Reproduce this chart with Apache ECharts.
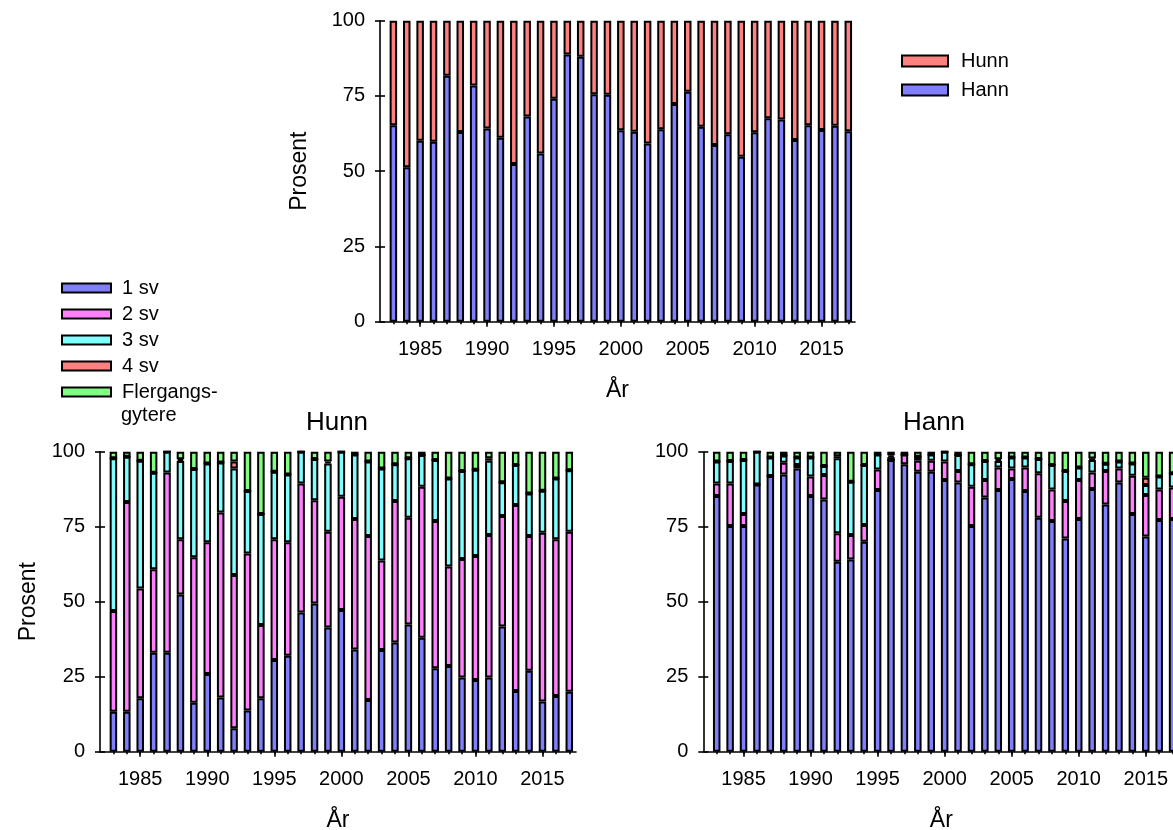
<!DOCTYPE html>
<html>
<head>
<meta charset="utf-8">
<script src="https://cdn.jsdelivr.net/npm/echarts@6/dist/echarts.min.js"></script>
<style>
  html, body { margin: 0; padding: 0; background: #fff; }
  #chart { width: 1173px; height: 830px; }
</style>
</head>
<body>
<div id="chart"></div>
<script>
// Years on record
const years = [1983, 1984, 1985, 1986, 1987, 1988, 1989, 1990, 1991, 1992,
  1993, 1994, 1995, 1996, 1997, 1998, 1999, 2000, 2001, 2002,
  2003, 2004, 2005, 2006, 2007, 2008, 2009, 2010, 2011, 2012,
  2013, 2014, 2015, 2016, 2017];

// Sex ratio (percent)
const hannPct = [65.3, 51.3, 60.1, 59.8, 81.7, 63.0, 78.5, 64.2, 61.1, 52.4,
  68.2, 55.9, 74.1, 88.8, 88.0, 75.6, 75.4, 63.6, 63.1, 59.2,
  63.9, 72.3, 76.4, 64.8, 58.7, 62.3, 54.8, 62.9, 67.6, 67.2,
  60.4, 65.3, 63.7, 65.1, 63.3];
const hunnPct = [34.7, 48.7, 39.9, 40.2, 18.3, 37.0, 21.5, 35.8, 38.9, 47.6,
  31.8, 44.1, 25.9, 11.2, 12.0, 24.4, 24.6, 36.4, 36.9, 40.8,
  36.1, 27.7, 23.6, 35.2, 41.3, 37.7, 45.2, 37.1, 32.4, 32.8,
  39.6, 34.7, 36.3, 34.9, 36.7];

// Sea-age composition, females (percent)
const hunn1sv = [13.3, 13.3, 17.8, 33.0, 33.0, 52.4, 16.3, 25.9, 18.1, 7.8,
  13.7, 17.8, 30.6, 32.0, 46.4, 49.4, 41.4, 47.2, 34.1, 17.2,
  33.9, 36.4, 42.4, 38.0, 27.8, 28.6, 24.7, 23.9, 24.7, 41.7,
  20.2, 27.0, 16.7, 18.6, 20.0];
const hunn2sv = [33.6, 69.9, 36.6, 27.8, 60.1, 18.4, 48.5, 43.9, 61.6, 51.1,
  52.4, 24.4, 40.2, 37.8, 43.0, 34.4, 31.9, 37.8, 43.5, 54.7,
  29.8, 47.2, 35.6, 50.3, 49.1, 33.1, 39.5, 41.3, 47.5, 36.9,
  62.0, 44.9, 56.3, 52.2, 53.3];
const hunn3sv = [50.9, 15.1, 42.6, 32.2, 6.9, 26.1, 29.4, 26.3, 16.7, 35.5,
  20.8, 37.0, 22.5, 22.6, 10.6, 13.8, 22.8, 15.0, 21.5, 24.8,
  30.7, 12.2, 19.8, 10.6, 20.3, 29.4, 29.4, 28.8, 24.8, 11.2,
  13.4, 14.2, 14.0, 20.3, 20.5];
const hunn4sv = [0, 0, 0, 0, 0, 0.6, 0, 0, 0, 2.3,
  0, 0, 0, 0, 0, 0, 0.6, 0, 0, 0,
  0, 0, 0, 0, 0, 0, 0, 0, 0.8, 0,
  0, 0, 0, 0, 0];
const hunnFl = [2.2, 1.7, 3.0, 7.0, 0, 2.5, 5.8, 3.9, 3.6, 3.3,
  13.1, 20.8, 6.7, 7.6, 0, 2.4, 3.3, 0, 0.9, 3.3,
  5.6, 4.2, 2.2, 1.1, 2.8, 8.9, 6.4, 6.0, 2.2, 10.2,
  4.4, 13.9, 13.0, 8.9, 6.2];

// Sea-age composition, males (percent)
const hann1sv = [85.2, 75.2, 75.2, 89.1, 91.9, 92.4, 94.4, 85.2, 84.1, 63.3,
  64.1, 70.0, 87.2, 97.2, 95.8, 93.3, 93.3, 90.6, 89.7, 75.2,
  84.7, 87.2, 90.9, 86.9, 78.0, 76.9, 71.1, 77.6, 87.6, 82.4,
  89.7, 79.2, 71.7, 77.2, 77.6];
const hann2sv = [4.2, 14.2, 4.0, 0, 0, 3.9, 1.2, 6.5, 8.1, 9.5,
  8.1, 5.6, 6.9, 0, 3.3, 3.7, 3.7, 6.1, 3.9, 13.1,
  5.9, 7.5, 3.5, 7.8, 14.8, 10.5, 12.5, 13.0, 5.5, 11.2,
  4.7, 12.8, 13.9, 10.2, 10.5];
const hann3sv = [7.3, 7.5, 18.0, 10.9, 6.2, 2.4, 2.5, 6.4, 3.0, 25.0,
  17.8, 20.0, 5.0, 1.0, 0, 1.3, 2.1, 3.3, 5.3, 7.5,
  6.3, 2.2, 3.7, 3.4, 4.8, 8.2, 10.0, 4.1, 4.1, 2.4,
  2.3, 4.1, 3.3, 4.3, 4.7];
const hann4sv = [0, 0, 0, 0, 0, 0, 0, 0, 0, 0.7,
  0, 0, 0, 0.6, 0, 0, 0, 0, 0, 0,
  0, 0.6, 0, 0, 0, 0, 0, 0, 0.5, 0,
  0, 0, 2.4, 0, 0];
const hannFl = [3.3, 3.1, 2.8, 0, 1.9, 1.3, 1.9, 1.9, 4.8, 1.5,
  10.0, 4.4, 0.9, 1.2, 0.9, 1.7, 0.9, 0, 1.1, 4.2,
  3.1, 2.5, 1.9, 1.9, 2.4, 4.4, 6.4, 5.3, 2.3, 4.0,
  3.3, 3.9, 8.7, 8.3, 7.2];

const yTicks = [0, 25, 50, 75, 100];

const sexNames = ['Hunn', 'Hann'];
const ageNames = ['1 sv', '2 sv', '3 sv', '4 sv', 'Flergangs-'];
const colors = {
  'Hann': '#8080ff', 'Hunn': '#ff8080',
  '1 sv': '#8080ff', '2 sv': '#ff80ff', '3 sv': '#80ffff', '4 sv': '#ff8080', 'Flergangs-': '#80ff80'
};

// Half-year category slots so the axis runs from 1982 to 2017.5
const slots = [];
for (let v = 1982; v <= 2017.5; v += 0.5) slots.push(String(v));
function spread(values) {
  const out = slots.map(() => '-');
  years.forEach((y, i) => { out[(y - 1982) * 2] = values[i]; });
  return out;
}

const FONT = "'Liberation Sans', Arial, sans-serif";
const txt = { color: '#000', fontFamily: FONT, fontSize: 20 };
const black = { color: '#000', width: 1.6 };

const grids = [
  { left: 380, top: 20.7, width: 475, height: 301, outerBoundsMode: 'none' },
  { left: 100, top: 451.7, width: 476, height: 300, outerBoundsMode: 'none' },
  { left: 703.3, top: 451.7, width: 476, height: 300, outerBoundsMode: 'none' }
];

const isMajor = (i, v) => Number(v) % 5 === 0;
const isYear = (i, v) => Number.isInteger(Number(v)) && Number(v) >= 1983;

const xAxis = [], yAxis = [];
grids.forEach((g, gi) => {
  xAxis.push({
    type: 'category', gridIndex: gi, data: slots, boundaryGap: false, position: 'bottom',
    axisLine: { lineStyle: black },
    axisTick: { length: 5, interval: isMajor, lineStyle: black },
    axisLabel: Object.assign({ interval: isMajor, margin: 18 }, txt),
    name: 'År', nameLocation: 'middle', nameGap: 57,
    nameTextStyle: { color: '#000', fontFamily: FONT, fontSize: 23 },
    splitLine: { show: false }
  });
  xAxis.push({
    type: 'category', gridIndex: gi, data: slots, boundaryGap: false, position: 'bottom',
    axisLine: { show: false },
    axisTick: { length: 2.5, interval: isYear, lineStyle: black },
    axisLabel: { show: false },
    splitLine: { show: false }
  });
  const yName = gi === 2 ? '' : 'Prosent';
  yAxis.push({
    type: 'value', gridIndex: gi, min: 0, max: 100, interval: 25, position: 'left',
    axisLine: { show: true, lineStyle: black },
    axisTick: { show: true, length: 5, lineStyle: black },
    axisLabel: Object.assign({ margin: 15, customValues: yTicks }, txt),
    splitLine: { show: false },
    name: yName, nameLocation: 'middle', nameGap: gi === 0 ? 69 : 60,
    nameTextStyle: { color: '#000', fontFamily: FONT, fontSize: 23 }
  });
  yAxis.push({
    type: 'value', gridIndex: gi, min: 0, max: 100, interval: 25, position: 'left',
    axisLine: { show: false },
    axisTick: { show: true, inside: true, length: 5, lineStyle: black },
    axisLabel: { show: false },
    splitLine: { show: false }
  });
});

function bar(name, values, gi, stack) {
  return {
    type: 'bar', name, stack, xAxisIndex: gi * 2, yAxisIndex: gi * 2,
    data: spread(values), barWidth: 7.5,
    itemStyle: { color: colors[name], borderColor: '#000', borderWidth: 2 },
    emphasis: { disabled: true }, animation: false
  };
}

const series = [
  bar('Hann', hannPct, 0, 'kjonn'),
  bar('Hunn', hunnPct, 0, 'kjonn'),
  bar('1 sv', hunn1sv, 1, 'hunn'),
  bar('2 sv', hunn2sv, 1, 'hunn'),
  bar('3 sv', hunn3sv, 1, 'hunn'),
  bar('4 sv', hunn4sv, 1, 'hunn'),
  bar('Flergangs-', hunnFl, 1, 'hunn'),
  bar('1 sv', hann1sv, 2, 'hann'),
  bar('2 sv', hann2sv, 2, 'hann'),
  bar('3 sv', hann3sv, 2, 'hann'),
  bar('4 sv', hann4sv, 2, 'hann'),
  bar('Flergangs-', hannFl, 2, 'hann')
];

const legendBase = {
  orient: 'vertical', icon: 'rect', padding: 0, selectedMode: false,
  itemStyle: { borderColor: '#000', borderWidth: 2 },
  textStyle: { color: '#000', fontFamily: FONT, fontSize: 20, lineHeight: 22, padding: [0, 0, 0, 8] }
};

const chart = echarts.init(document.getElementById('chart'), null, { renderer: 'canvas' });
chart.setOption({
  backgroundColor: '#fff',
  animation: false,
  grid: grids,
  xAxis, yAxis, series,
  legend: [
    Object.assign({}, legendBase, { data: sexNames, left: 901, top: 50, itemWidth: 46, itemHeight: 11, itemGap: 7 }),
    Object.assign({}, legendBase, { data: ageNames, left: 61, top: 277, itemWidth: 49, itemHeight: 9, itemGap: 4,
      textStyle: Object.assign({}, legendBase.textStyle, { padding: [0, 0, 0, 6] }) })
  ],
  title: [
    { text: 'Hunn', left: 337, top: 410, textAlign: 'center', padding: 0,
      textStyle: { color: '#000', fontFamily: FONT, fontSize: 26, fontWeight: 'normal' } },
    { text: 'Hann', left: 934, top: 410, textAlign: 'center', padding: 0,
      textStyle: { color: '#000', fontFamily: FONT, fontSize: 26, fontWeight: 'normal' } }
  ],
  graphic: [
    { type: 'text', left: 121, top: 405,
      style: { text: 'gytere', fill: '#000', font: "20px 'Liberation Sans', Arial, sans-serif" } }
  ]
});
</script>
</body>
</html>
